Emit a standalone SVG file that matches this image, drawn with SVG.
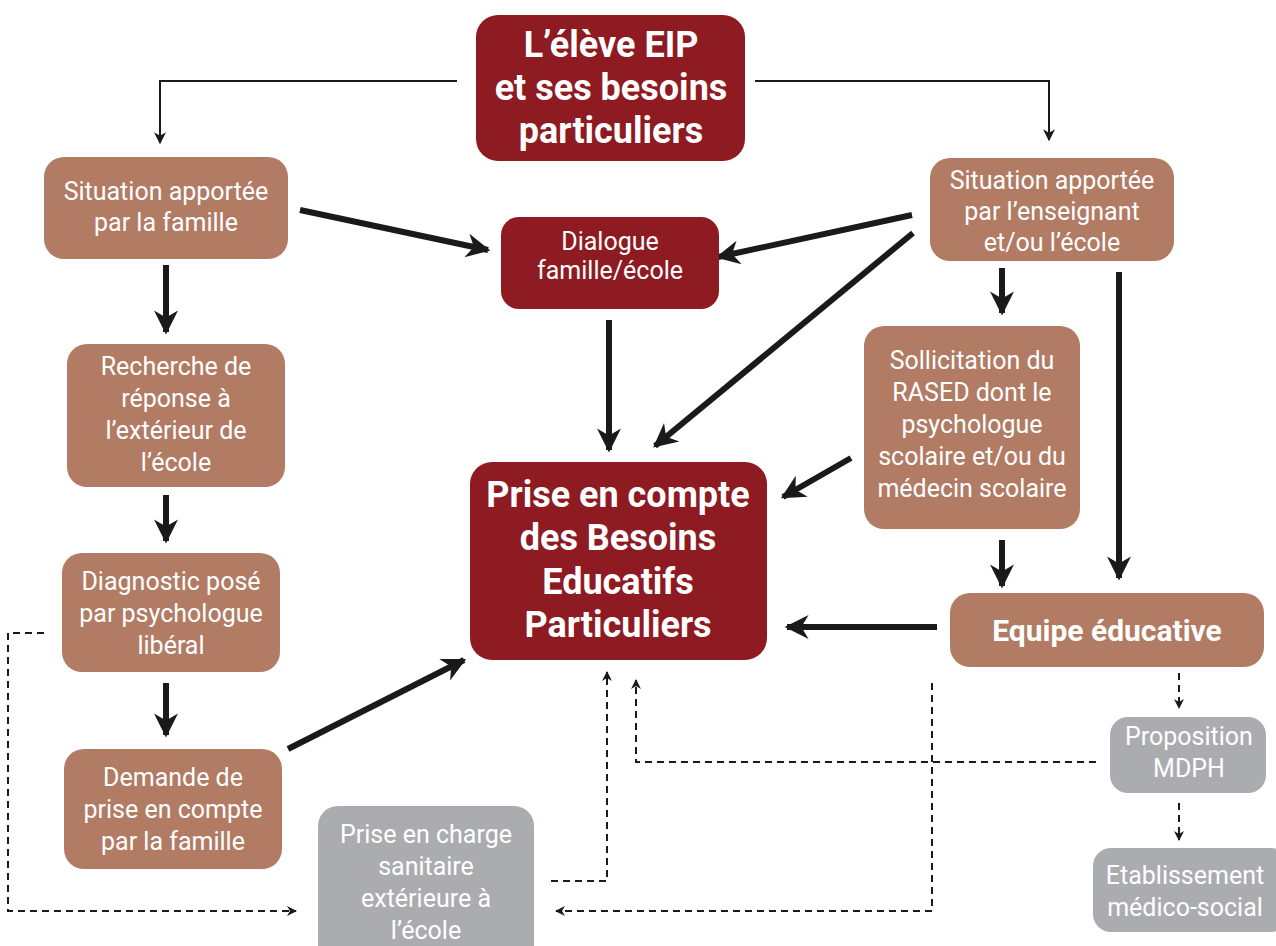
<svg xmlns="http://www.w3.org/2000/svg" width="1276" height="946" viewBox="0 0 1276 946">
<defs>
<style>
.red{fill:#8E1A22}
.brown{fill:#B17B64}
.gray{fill:#ABACAF}
text{font-family:Roboto,"Liberation Sans",sans-serif;fill:#fff;text-anchor:middle}
.t{font-size:25px}
.tb{font-size:36px;font-weight:bold}
.tm{font-size:30px;font-weight:bold}
.thick{stroke:#1a1a1a;stroke-width:6;fill:none}
.thin{stroke:#1a1a1a;stroke-width:2;fill:none}
.dash{stroke:#1a1a1a;stroke-width:2;fill:none;stroke-dasharray:7 5}
</style>
<marker id="ah" viewBox="0 0 10 10" refX="9" refY="5" markerWidth="5.5" markerHeight="4" orient="auto" markerUnits="strokeWidth"><path d="M0,0 L10,5 L0,10 L3,5 Z" fill="#1a1a1a"/></marker>
<marker id="as" viewBox="0 0 10 10" refX="9" refY="5" markerWidth="8" markerHeight="6" orient="auto" markerUnits="strokeWidth"><path d="M0,0 L10,5 L0,10 L3,5 Z" fill="#1a1a1a"/></marker>
<marker id="ad" viewBox="0 0 10 10" refX="9" refY="5" markerWidth="6" markerHeight="5" orient="auto" markerUnits="strokeWidth"><path d="M0,0 L10,5 L0,10 L3,5 Z" fill="#1a1a1a"/></marker>
</defs>
<rect width="1276" height="946" fill="#fff"/>

<g id="connectors">
<path class="thin" d="M457,81 H160 V143" marker-end="url(#as)"/>
<path class="thin" d="M755,81 H1049 V140" marker-end="url(#as)"/>
<path class="thick" d="M300,210 L488,250" marker-end="url(#ah)"/>
<path class="thick" d="M912,215 L718,257" marker-end="url(#ah)"/>
<path class="thick" d="M913,233 L655,446" marker-end="url(#ah)"/>
<path class="thick" d="M609,320 L609,450" marker-end="url(#ah)"/>
<path class="thick" d="M166,265 L166,332" marker-end="url(#ah)"/>
<path class="thick" d="M166,495 L166,541" marker-end="url(#ah)"/>
<path class="thick" d="M166,683 L166,735" marker-end="url(#ah)"/>
<path class="thick" d="M288,749 L464,660" marker-end="url(#ah)"/>
<path class="thick" d="M1002,268 L1002,313" marker-end="url(#ah)"/>
<path class="thick" d="M1119,272 L1119,578" marker-end="url(#ah)"/>
<path class="thick" d="M851,458 L783,497" marker-end="url(#ah)"/>
<path class="thick" d="M1002,540 L1002,586" marker-end="url(#ah)"/>
<path class="thick" d="M937,627 L787,627" marker-end="url(#ah)"/>
<path class="dash" d="M44,633 H8 V911 H296" marker-end="url(#ad)"/>
<path class="dash" d="M551,881 H607 V672" marker-end="url(#ad)"/>
<path class="dash" d="M1096,762 H636 V680" marker-end="url(#ad)"/>
<path class="dash" d="M932,683 V911 H556" marker-end="url(#ad)"/>
<path class="dash" d="M1179,673 V708" marker-end="url(#ad)"/>
<path class="dash" d="M1179,803 V840" marker-end="url(#ad)"/>
</g>

<g id="n-eleve">
<rect class="red" x="476" y="15" width="269" height="146" rx="22"/>
<text class="tb" x="611" y="57">L’élève EIP</text>
<text class="tb" x="611" y="100">et ses besoins</text>
<text class="tb" x="611" y="143">particuliers</text>
</g>

<g id="n-famille">
<rect class="brown" x="44" y="157" width="244" height="102" rx="20"/>
<text class="t" x="166" y="200">Situation apportée</text>
<text class="t" x="166" y="231">par la famille</text>
</g>

<g id="n-dialogue">
<rect class="red" x="501" y="217" width="218" height="92" rx="18"/>
<text class="t" x="610" y="250">Dialogue</text>
<text class="t" x="610" y="279">famille/école</text>
</g>

<g id="n-enseignant">
<rect class="brown" x="930" y="158" width="244" height="103" rx="20"/>
<text class="t" x="1052" y="189">Situation apportée</text>
<text class="t" x="1052" y="220">par l’enseignant</text>
<text class="t" x="1052" y="251">et/ou l’école</text>
</g>

<g id="n-recherche">
<rect class="brown" x="67" y="344" width="218" height="143" rx="20"/>
<text class="t" x="176" y="375">Recherche de</text>
<text class="t" x="176" y="407">réponse à</text>
<text class="t" x="176" y="439">l’extérieur de</text>
<text class="t" x="176" y="471">l’école</text>
</g>

<g id="n-diagnostic">
<rect class="brown" x="62" y="553" width="218" height="119" rx="20"/>
<text class="t" x="171" y="590">Diagnostic posé</text>
<text class="t" x="171" y="622">par psychologue</text>
<text class="t" x="171" y="654">libéral</text>
</g>

<g id="n-demande">
<rect class="brown" x="64" y="749" width="218" height="120" rx="20"/>
<text class="t" x="173" y="786">Demande de</text>
<text class="t" x="173" y="818">prise en compte</text>
<text class="t" x="173" y="850">par la famille</text>
</g>

<g id="n-prise-charge">
<rect class="gray" x="318" y="806" width="216" height="160" rx="20"/>
<text class="t" x="426" y="843">Prise en charge</text>
<text class="t" x="426" y="875">sanitaire</text>
<text class="t" x="426" y="907">extérieure à</text>
<text class="t" x="426" y="939">l’école</text>
</g>

<g id="n-prise-compte">
<rect class="red" x="470" y="462" width="297" height="198" rx="22"/>
<text class="tb" x="618" y="507">Prise en compte</text>
<text class="tb" x="618" y="550">des Besoins</text>
<text class="tb" x="618" y="594">Educatifs</text>
<text class="tb" x="618" y="637">Particuliers</text>
</g>

<g id="n-rased">
<rect class="brown" x="864" y="326" width="216" height="203" rx="20"/>
<text class="t" x="972" y="369">Sollicitation du</text>
<text class="t" x="972" y="401">RASED dont le</text>
<text class="t" x="972" y="433">psychologue</text>
<text class="t" x="972" y="465">scolaire et/ou du</text>
<text class="t" x="972" y="497">médecin scolaire</text>
</g>

<g id="n-equipe">
<rect class="brown" x="950" y="593" width="314" height="74" rx="20"/>
<text class="tm" x="1107" y="641">Equipe éducative</text>
</g>

<g id="n-mdph">
<rect class="gray" x="1110" y="717" width="156" height="76" rx="18"/>
<text class="t" x="1189" y="745">Proposition</text>
<text class="t" x="1189" y="777">MDPH</text>
</g>

<g id="n-etab">
<rect class="gray" x="1093" y="848" width="196" height="84" rx="18"/>
<text class="t" x="1185" y="884">Etablissement</text>
<text class="t" x="1185" y="916">médico-social</text>
</g>
</svg>
